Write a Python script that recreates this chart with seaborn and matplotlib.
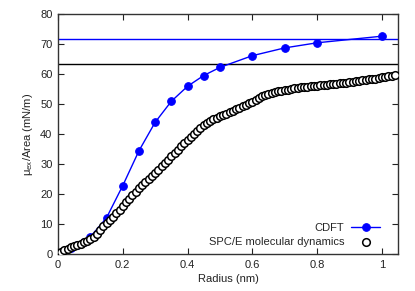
import numpy as np
import pandas as pd
import matplotlib
matplotlib.use("Agg")
import matplotlib.pyplot as plt
import seaborn as sns

# CDFT results
cdft_r = [0.02, 0.04, 0.06, 0.08, 0.10, 0.15, 0.20, 0.25, 0.30, 0.35, 0.40, 0.45,
          0.50, 0.60, 0.70, 0.80, 1.00]
cdft_mu = [1.1, 2.1, 3.0, 3.9, 5.7, 12.1, 22.8, 34.4, 43.9, 50.9, 55.9, 59.5,
           62.2, 66.1, 68.7, 70.4, 72.6]

# SPC/E molecular dynamics
md_r = [round(0.01 * i, 2) for i in range(105)]
md_mu = [0.3, 0.8, 1.3, 1.8, 2.3, 2.7, 3.1, 3.5, 4.0, 4.5,
         5.0, 5.8, 6.8, 8.0, 9.2, 10.3, 11.4, 12.5, 13.6, 14.8,
         16.0, 17.2, 18.4, 19.6, 20.8, 22.0, 23.0, 24.0, 25.0, 26.0,
         27.0, 28.1, 29.2, 30.3, 31.5, 32.6, 33.7, 34.8, 35.9, 37.0,
         38.0, 39.0, 40.0, 41.0, 42.0, 42.9, 43.7, 44.4, 45.0, 45.5,
         46.0, 46.4, 46.8, 47.2, 47.7, 48.2, 48.7, 49.2, 49.7, 50.2,
         50.8, 51.4, 52.0, 52.6, 53.1, 53.5, 53.8, 54.0, 54.2, 54.4,
         54.6, 54.8, 55.0, 55.2, 55.4, 55.6, 55.7, 55.8, 55.9, 56.0,
         56.1, 56.3, 56.4, 56.5, 56.6, 56.7, 56.8, 56.9, 57.0, 57.1,
         57.2, 57.4, 57.6, 57.8, 58.0, 58.1, 58.2, 58.3, 58.5, 58.7,
         58.9, 59.1, 59.3, 59.5, 59.6]

# large-radius limits
cdft_limit = 71.7
md_limit = 63.4

sns.set_theme(style="white")
plt.rcParams['font.family'] = ['Liberation Sans', 'DejaVu Sans']
plt.rcParams['mathtext.fontset'] = 'custom'
plt.rcParams['mathtext.rm'] = 'Liberation Sans'
plt.rcParams['mathtext.it'] = 'Liberation Sans'

fig = plt.figure(figsize=(4.15, 2.91), dpi=100)
ax = fig.add_axes([58 / 415, 1 - 254 / 291, 340 / 415, 240 / 291])

ax.axhline(cdft_limit, color='#0000ff', lw=1, zorder=1)
ax.axhline(md_limit, color='black', lw=1, zorder=1)

df_cdft = pd.DataFrame({'r': cdft_r, 'mu': cdft_mu})
df_md = pd.DataFrame({'r': md_r, 'mu': md_mu})

sns.lineplot(data=df_cdft, x='r', y='mu', ax=ax, color='#0000ff', lw=1,
             marker='o', markersize=5.5, markeredgecolor='#0000ff',
             label='CDFT', zorder=2)
sns.scatterplot(data=df_md, x='r', y='mu', ax=ax, facecolor='white',
                edgecolor='black', linewidth=1.1, s=30, marker='o',
                label='SPC/E molecular dynamics', zorder=3)

ax.set_xlim(0, 1.05)
ax.set_ylim(0, 80)
ax.set_xticks([0, 0.2, 0.4, 0.6, 0.8, 1.0])
ax.set_xticklabels(['0', '0.2', '0.4', '0.6', '0.8', '1'])
ax.set_yticks(range(0, 81, 10))
ax.tick_params(direction='in', length=4, width=0.8, colors='#222222',
               labelsize=8, top=True, right=True, bottom=True, left=True,
               pad=4, labelcolor='#222222')
for s in ax.spines.values():
    s.set_color('#333333')
    s.set_linewidth(1)

ax.set_xlabel('Radius (nm)', fontsize=8, color='#222222', labelpad=3)
ax.set_ylabel('μ$_{\\mathrm{ex}}$/Area (mN/m)', fontsize=8, color='#222222',
              labelpad=4)

leg = ax.legend(loc='lower right', frameon=False, markerfirst=False,
                fontsize=8, handlelength=2.6, borderaxespad=0.0,
                labelspacing=0.35, handletextpad=0.6,
                bbox_to_anchor=(0.96, 0.01))

fig.savefig('out.png', dpi=100)
